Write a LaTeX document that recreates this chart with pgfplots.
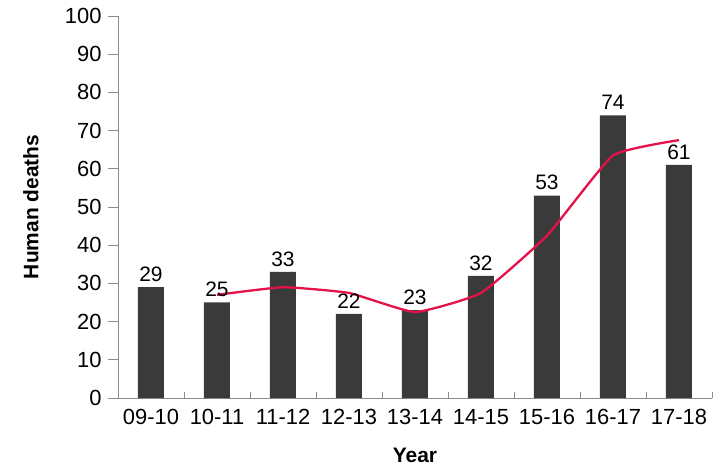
\documentclass[border=0pt]{standalone}
\usepackage{fontspec}
\setmainfont{Liberation Sans}
\usepackage{pgfplots}
\pgfplotsset{compat=1.18}
\definecolor{barc}{RGB}{58,58,58}
\definecolor{linec}{RGB}{228,18,72}
\definecolor{axc}{RGB}{140,140,140}
\begin{document}
\begin{tikzpicture}
\path[use as bounding box] (-118bp,-72bp) rectangle (602bp,398bp);
\begin{axis}[
  at={(0,0)}, anchor=south west,
  scale only axis, width=594bp, height=382bp,
  xmin=-0.5, xmax=8.5, ymin=0, ymax=100,
  axis x line=bottom, axis y line=left,
  axis line style={-, draw=axc, line width=0.8pt},
  xtick={0,...,8},
  xticklabels={09-10,10-11,11-12,12-13,13-14,14-15,15-16,16-17,17-18},
  major x tick style={draw=none},
  minor xtick={-0.5,0.5,...,8.5},
  minor x tick style={draw=axc, line width=0.8pt},
  minor tick length=6bp,
  xtick align=inside,
  ytick={0,10,...,100},
  ytick align=outside,
  y tick style={draw=axc, line width=0.8pt},
  major tick length=10bp,
  /pgf/number format/assume math mode=true,
  tick label style={font=\fontsize{22}{22}\selectfont},
  x tick label style={yshift=-8bp},
  y tick label style={xshift=-3bp},
  xlabel={Year}, ylabel={Human deaths},
  label style={font=\fontsize{21}{21}\selectfont\bfseries},
  xlabel style={at={(axis description cs:0.5,-0.149)}, anchor=center},
  ylabel style={at={(axis description cs:-0.1465,0.5)}, anchor=center},
  clip=false,
]
\addplot[ybar, bar width=26bp, fill=barc, draw=none,
  nodes near coords, nodes near coords style={font=\fontsize{21}{21}\selectfont, black, yshift=2bp}]
  coordinates {(0,29) (1,25) (2,33) (3,22) (4,23) (5,32) (6,53) (7,74) (8,61)};
\addplot[linec, line width=2.3pt, smooth, tension=0.25]
  coordinates {(1,27) (2,29) (3,27.5) (4,22.5) (5,27.5) (6,42.5) (7,63.5) (8,67.5)};
\end{axis}
\end{tikzpicture}
\end{document}
